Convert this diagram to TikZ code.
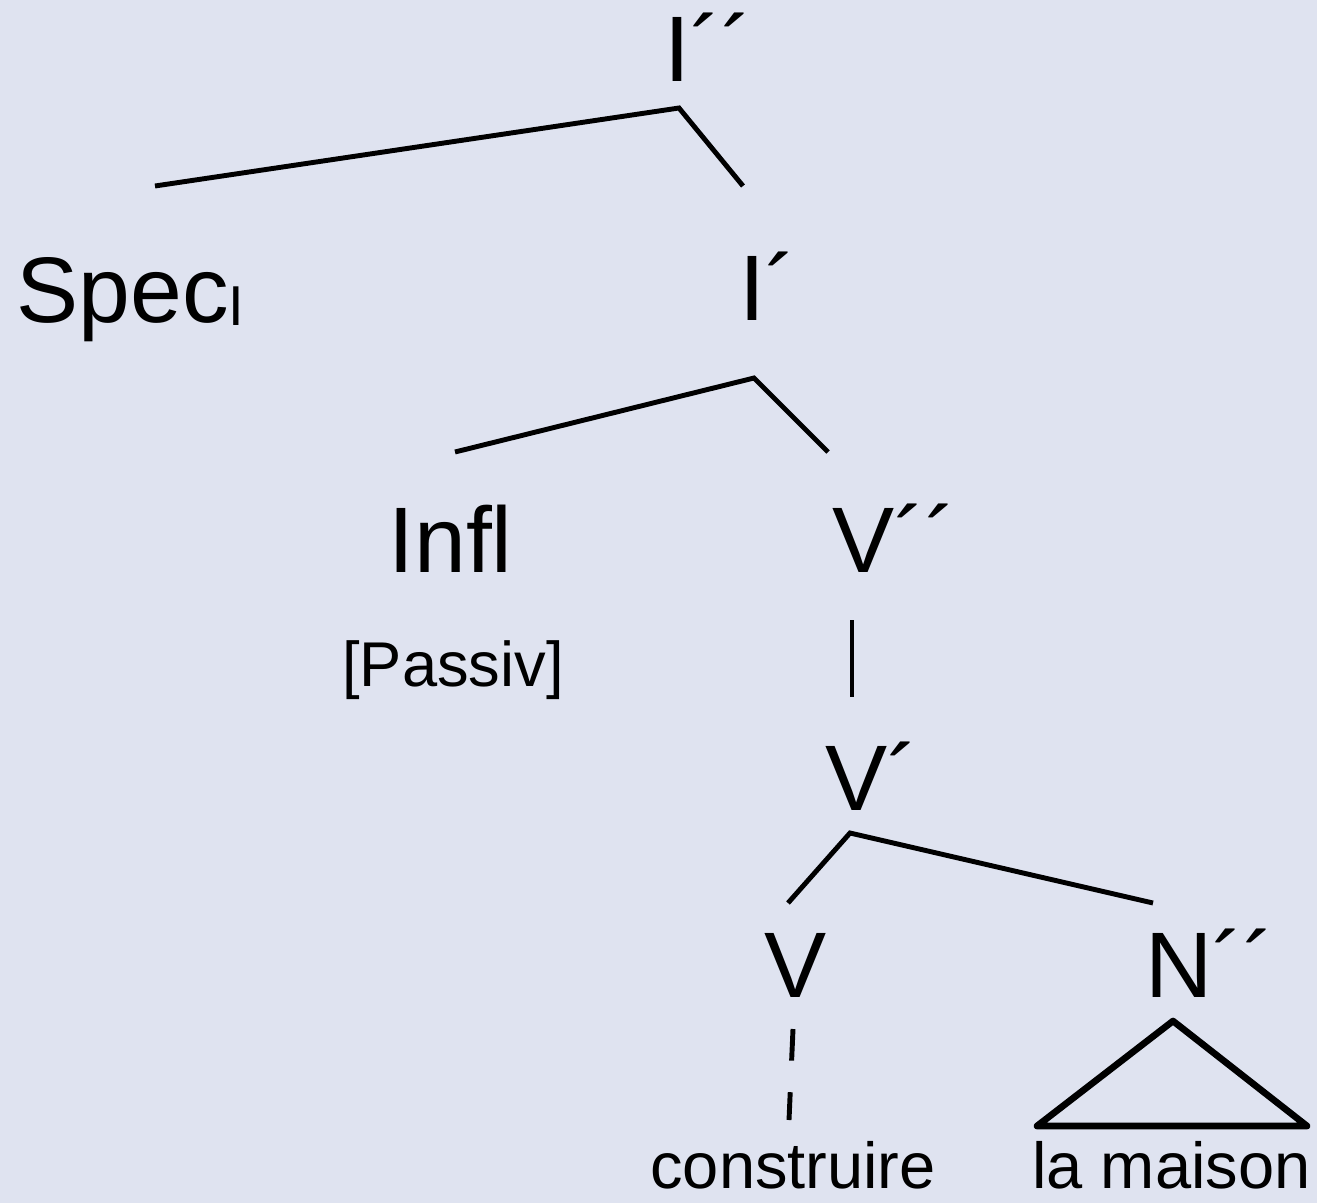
\documentclass[tikz,border=0pt]{standalone}
\usepackage{fontspec}
\setmainfont{Liberation Sans}
\definecolor{bgc}{RGB}{223,227,240}
\begin{document}
\begin{tikzpicture}[x=0.02cm,y=-0.02cm,
  lbl/.style={inner sep=0,anchor=base west,font=\fontsize{53}{60}\selectfont},
  sm/.style={inner sep=0,anchor=base west,font=\fontsize{37}{42}\selectfont},
  leaf/.style={sm,text depth=0pt},
  edge/.style={line width=2.8pt},
  thinedge/.style={line width=2.4pt},
  tri/.style={line width=3.8pt,line join=round,line cap=round}]
\fill[bgc] (0,0) rectangle (1317,1203);
\useasboundingbox (0,0) rectangle (1317,1203);

% labels of the tree
\node[lbl] (Ipp) at (664,82) {I´´};
\node[lbl] (Spec) at (16,322) {Spec\raisebox{-0.06cm}{\fontsize{32}{32}\selectfont I}};
\node[lbl] (Ip) at (739,320) {I´};
\node[lbl] (Infl) at (388,572) {Infl};
\node[lbl] (Vpp) at (832,572) {V´´};
\node[sm,font=\fontsize{36}{42}\selectfont] (Passiv) at (342,686) {[Passiv]};
\node[lbl] (Vp) at (825,810) {V´};
\node[lbl] (V) at (764,997) {V};
\node[lbl] (Npp) at (1145,997) {N´´};
\node[leaf] (constr) at (650,1188) {construire};
\node[leaf] (maison) at (1032,1188) {la maison};

% branch points
\coordinate (IppTop) at (679,108);
\coordinate (SpecEnd) at (155,186);
\coordinate (IpEnd) at (743,186);
\coordinate (IpTop) at (754,378);
\coordinate (InflEnd) at (455,452);
\coordinate (VppEnd) at (828,452);
\coordinate (VppBar) at (852,620);
\coordinate (VpEnd) at (852,697);
\coordinate (VpTop) at (850,833);
\coordinate (VEnd) at (788,903);
\coordinate (NppEnd) at (1153,903);
\coordinate (VDashTop) at (793,1029);
\coordinate (VDashEnd) at (789,1120);
\coordinate (TriTop) at (1173,1021);
\coordinate (TriL) at (1037,1126);
\coordinate (TriR) at (1307,1126);

% connectors
\draw[edge] (SpecEnd) -- (IppTop) -- (IpEnd);
\draw[edge] (InflEnd) -- (IpTop) -- (VppEnd);
\draw[thinedge] (VppBar) -- (VpEnd);
\draw[edge] (VEnd) -- (VpTop) -- (NppEnd);
\draw[edge,dash pattern=on 18pt off 18pt] (VDashTop) -- (VDashEnd);
\draw[tri] (TriTop) -- (TriL) -- (TriR) -- cycle;
\end{tikzpicture}
\end{document}
